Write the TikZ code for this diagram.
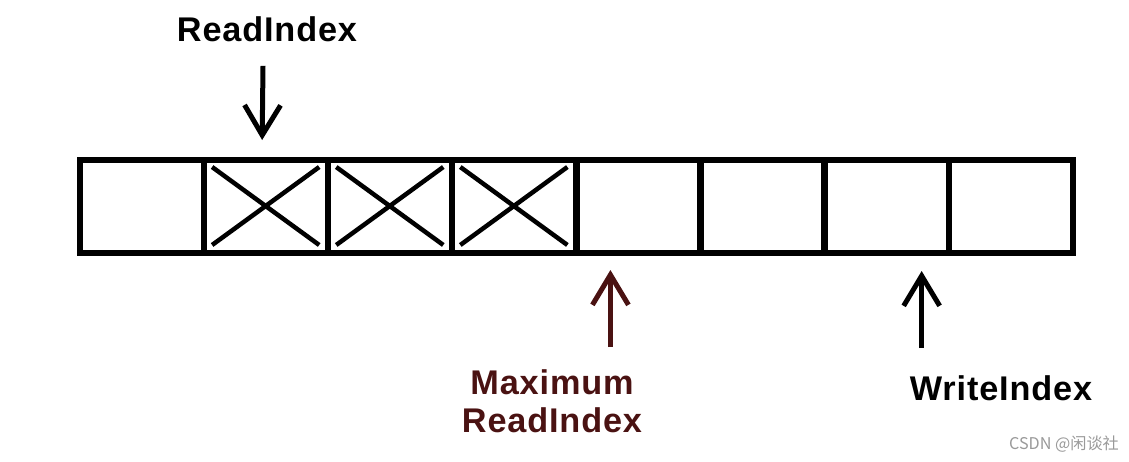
\documentclass[tikz,border=0pt]{standalone}
\usepackage{fontspec}
\newfontfamily\lblfont{Liberation Sans}[LetterSpace=2.5]
\newfontfamily\cjk{Noto Sans CJK SC}
\usepackage{tikz}
\usetikzlibrary{arrows.meta, positioning}
\definecolor{MaxRed}{HTML}{4A1212}

\tikzset{
  slot/.style={draw, line width=0.125cm, minimum width=2.482cm, minimum height=1.86cm, inner sep=0pt, outer sep=0pt},
  cross/.style={line width=0.09cm},
  ptr/.style={line width=0.1cm, -{Straight Barb[length=0.6cm, width=0.72cm]}},
  idx/.style={font=\lblfont\bfseries\fontsize{19.5}{21.5}\selectfont, align=center, inner sep=0pt},
}

\begin{document}
\begin{tikzpicture}[x=0.02cm, y=-0.02cm]
    \useasboundingbox (0,0) rectangle (1129,461);
    % buffer slots
    \foreach \i in {1,...,8}
        \node[slot] (cell\i) at ({80+124.1*(\i-0.5)}, 206.5) {};
    \foreach \i in {2,3,4} {
        \draw[cross] ([shift={(8,7)}]cell\i.north west) -- ([shift={(-9,-8)}]cell\i.south east);
        \draw[cross] ([shift={(-9,7)}]cell\i.north east) -- ([shift={(8,-8)}]cell\i.south west);
    }
    % read pointer
    \node[idx] (readidx) at (267,29) {ReadIndex};
    \draw[ptr] ([shift={(-4,24)}]readidx.south) -- ([shift={(-4,-20)}]cell2.north);
    % maximum read pointer
    \node[idx, text=MaxRed] (maxidx) at (552,401) {Maximum\\ReadIndex};
    \draw[ptr, MaxRed] ([shift={(34,94)}]cell5.south west) -- ([shift={(34,17)}]cell5.south west);
    % write pointer
    \node[idx] (writeidx) at (1001,388) {WriteIndex};
    \draw[ptr] ([shift={(35,95)}]cell7.south) -- ([shift={(35,18)}]cell7.south);
    \node[font=\cjk\fontsize{9.2}{11}\selectfont, text=black!40, inner sep=0pt] (mark) at (1064,444) {CSDN @闲谈社};
\end{tikzpicture}
\end{document}
